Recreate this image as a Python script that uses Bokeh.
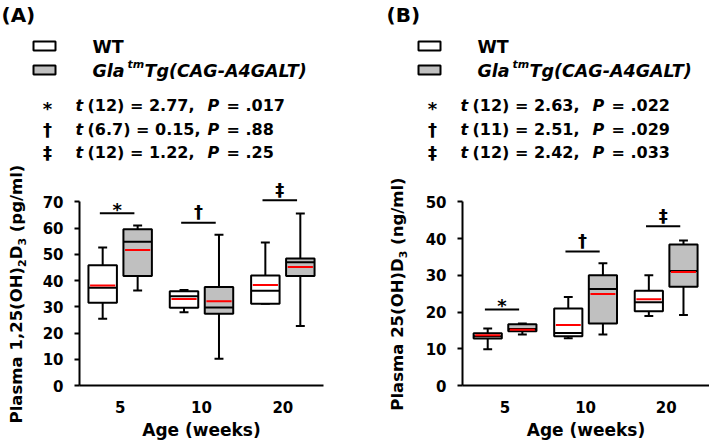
import numpy as np
from bokeh.plotting import figure
from bokeh.models import Range1d, FixedTicker, Label, Div
from bokeh.layouts import column, row
from bokeh.embed import file_html
from bokeh.resources import INLINE
from bokeh.core.properties import value

# ---------------- data ----------------
ages = ["5", "10", "20"]
x_title = "Age (weeks)"
legend_wt = "WT"
legend_tg = ["Gla", "tm", "Tg(CAG-A4GALT)"]
sig_symbols = ["*", "\u2020", "\u2021"]

# Panel A: plasma 1,25(OH)2D3 (pg/ml)
a_title = "(A)"
a_ylabel = ["Plasma 1,25(OH)", "2", "D", "3", " (pg/ml)"]
a_yticks = [0, 10, 20, 30, 40, 50, 60, 70]
a_wt_low = [25.5, 27.9, 31.2]
a_wt_q1 = [31.6, 29.6, 31.2]
a_wt_med = [37.3, 34.0, 36.1]
a_wt_q3 = [45.9, 35.9, 41.9]
a_wt_high = [52.6, 36.4, 54.5]
a_wt_mean = [38.1, 33.0, 38.3]
a_tg_low = [36.2, 10.2, 22.7]
a_tg_q1 = [41.8, 27.4, 41.8]
a_tg_med = [54.8, 29.7, 47.0]
a_tg_q3 = [59.6, 37.6, 48.4]
a_tg_high = [61.0, 57.5, 65.6]
a_tg_mean = [51.7, 32.1, 45.2]
a_sig_y = [65.7, 62.1, 70.6]
a_df = ["12", "6.7", "12"]
a_t = ["2.77", "0.15", "1.22"]
a_p = [".017", ".88", ".25"]

# Panel B: plasma 25(OH)D3 (ng/ml)
b_title = "(B)"
b_ylabel = ["Plasma 25(OH)D", "3", "", "", " (ng/ml)"]
b_yticks = [0, 10, 20, 30, 40, 50]
b_wt_low = [9.9, 12.9, 18.9]
b_wt_q1 = [12.8, 13.4, 20.2]
b_wt_med = [13.4, 14.3, 22.7]
b_wt_q3 = [14.2, 21.0, 25.8]
b_wt_high = [15.5, 24.1, 30.0]
b_wt_mean = [13.7, 16.5, 23.5]
b_tg_low = [13.9, 13.9, 19.2]
b_tg_q1 = [14.8, 16.9, 26.9]
b_tg_med = [15.4, 26.3, 31.2]
b_tg_q3 = [16.7, 30.0, 38.4]
b_tg_high = [16.9, 33.3, 39.5]
b_tg_mean = [15.2, 24.9, 30.9]
b_sig_y = [20.7, 36.5, 43.4]
b_df = ["12", "11", "12"]
b_t = ["2.63", "2.51", "2.42"]
b_p = [".022", ".029", ".033"]

# ---------------- style ----------------
FONT_NAME = "DejaVu Sans"
FONT = value(FONT_NAME)
GRAY = "#c0c0c0"
RED = "#ff0000"
TOTAL_W, TOTAL_H = 709, 442
HDR_H = 164
PLOT_H = TOTAL_H - HDR_H
BORDER_TOP = 8
BORDER_BOTTOM = 55
FRAME_H = PLOT_H - BORDER_TOP - BORDER_BOTTOM
PX_SPAN = 185.3          # pixels between 0 and the top tick
sym_lift = {"*": 4, "\u2020": 11, "\u2021": 11}   # px above the bar (symbol centre)


def make_panel(width, left, right, xr, yticks, wt, tg, sig_y):
    ppu = PX_SPAN / yticks[-1]
    p = figure(width=width, height=PLOT_H, x_range=Range1d(*xr),
               y_range=Range1d(0, FRAME_H / ppu),
               toolbar_location=None, output_backend="svg",
               min_border_left=left, min_border_right=right,
               min_border_top=BORDER_TOP, min_border_bottom=BORDER_BOTTOM,
               outline_line_color=None)
    p.xgrid.visible = False
    p.ygrid.visible = False
    x = np.arange(1, len(ages) + 1)
    off, bw, cw = 0.215, 0.35, 0.11
    for vals, dx, fill in [(wt, -off, "white"), (tg, off, GRAY)]:
        low, q1, med, q3, high, mean = [np.array(v) for v in vals]
        xc = x + dx
        p.segment(xc, q3, xc, high, line_color="black", line_width=2)
        p.segment(xc, q1, xc, low, line_color="black", line_width=2)
        p.segment(xc - cw / 2, high, xc + cw / 2, high, line_color="black", line_width=2)
        p.segment(xc - cw / 2, low, xc + cw / 2, low, line_color="black", line_width=2)
        p.quad(left=xc - bw / 2, right=xc + bw / 2, bottom=q1, top=q3,
               fill_color=fill, line_color="black", line_width=2)
        p.segment(xc - bw / 2, med, xc + bw / 2, med, line_color="black", line_width=2)
        p.segment(xc - bw / 2 + 0.02, mean, xc + bw / 2 - 0.02, mean, line_color=RED, line_width=2)
    sy = np.array(sig_y)
    p.segment(x - 0.25, sy, x + 0.175, sy, line_color="black", line_width=2)
    for i, s in enumerate(sig_symbols):
        p.add_layout(Label(x=float(x[i]) - 0.0375, y=sig_y[i] + sym_lift[s] / ppu, text=s,
                           text_align="center", text_baseline="middle",
                           text_font=FONT_NAME, text_font_style="bold",
                           text_font_size="18px", text_color="black"))
    # axes
    xa = p.xaxis[0]
    xa.ticker = FixedTicker(ticks=[int(v) for v in x])
    xa.major_label_overrides = {int(k): a for k, a in zip(x, ages)}
    xa.axis_label = x_title
    xa.minor_tick_line_color = None
    xa.major_tick_out = 0
    xa.major_tick_in = 0
    xa.major_label_standoff = 15
    xa.axis_label_standoff = 4
    ya = p.yaxis[0]
    ya.ticker = FixedTicker(ticks=yticks)
    ya.bounds = (0, yticks[-1])
    ya.minor_tick_line_color = None
    ya.major_tick_out = 5
    ya.major_tick_in = 0
    ya.major_label_standoff = 11
    for ax in (xa, ya):
        ax.axis_line_width = 2
        ax.major_tick_line_width = 2
        ax.axis_line_color = "black"
        ax.major_label_text_font = FONT_NAME
        ax.major_label_text_font_style = "bold"
        ax.major_label_text_font_size = "15px"
        ax.major_label_text_color = "black"
        ax.axis_label_text_font = FONT_NAME
        ax.axis_label_text_font_style = "bold"
        ax.axis_label_text_color = "black"
    xa.axis_label_text_font_size = "17px"
    xa.major_tick_line_color = None
    ya.major_tick_line_color = "black"
    return p


def title_strip(width, cx, parts):
    """Vertical y-axis title (with real subscripts), centred on the 0..top-tick span."""
    cy = PLOT_H - BORDER_BOTTOM - PX_SPAN / 2
    sub = '<sub style="font-size:11px;line-height:0;">%s</sub>'
    label = parts[0] + (sub % parts[1] if parts[1] else "") + parts[2] + \
        (sub % parts[3] if parts[3] else "") + parts[4]
    html = (
        '<div style="position:relative;width:%dpx;height:%dpx;overflow:visible;">'
        '<div style="position:absolute;left:%.1fpx;top:%.1fpx;'
        'transform:translate(-50%%,-50%%) rotate(-90deg);white-space:nowrap;'
        "font-family:'DejaVu Sans';font-weight:bold;font-size:16.5px;line-height:1;color:#000;\">"
        '%s</div></div>' % (width, PLOT_H, cx, cy, label)
    )
    return Div(text=html, width=width, height=PLOT_H, margin=0)


tA = title_strip(30, 17, a_ylabel)
pA = make_panel(325, 49, 32, (0.5, 3.5), a_yticks,
                (a_wt_low, a_wt_q1, a_wt_med, a_wt_q3, a_wt_high, a_wt_mean),
                (a_tg_low, a_tg_q1, a_tg_med, a_tg_q3, a_tg_high, a_tg_mean),
                a_sig_y)
tB = title_strip(55, 42.5, b_ylabel)
pB = make_panel(299, 52, 0, (0.472, 3.538), b_yticks,
                (b_wt_low, b_wt_q1, b_wt_med, b_wt_q3, b_wt_high, b_wt_mean),
                (b_tg_low, b_tg_q1, b_tg_med, b_tg_q3, b_tg_high, b_tg_mean),
                b_sig_y)

# ---------------- header (legend + statistics) ----------------
hdr = figure(width=TOTAL_W, height=HDR_H, x_range=Range1d(0, TOTAL_W), y_range=Range1d(HDR_H, 0),
             toolbar_location=None, output_backend="svg", min_border=0,
             x_axis_location=None, y_axis_location=None, outline_line_color=None)
hdr.xgrid.visible = False
hdr.ygrid.visible = False


def txt(x, y, s, size, style="bold", align="left"):
    hdr.text(x=[x], y=[y], text=[s], text_font=FONT, text_font_style=style,
             text_font_size=size, text_align=align, text_baseline="middle",
             text_color="black")


def header(ox, title, dfs, ts, ps):
    txt(ox + 1, 14, title, "20px")
    hdr.quad(left=[ox + 33], right=[ox + 55], top=[41], bottom=[50],
             fill_color="white", line_color="black", line_width=2)
    hdr.quad(left=[ox + 33], right=[ox + 55], top=[65], bottom=[74],
             fill_color=GRAY, line_color="black", line_width=2)
    txt(ox + 92, 46, legend_wt, "17.5px")
    txt(ox + 92, 70, legend_tg[0], "17.5px", "bold italic")
    txt(ox + 127, 64, legend_tg[1], "11px", "bold italic")
    txt(ox + 144, 70, legend_tg[2], "17.5px", "bold italic")
    ys = [105, 129, 152]
    for i in range(3):
        txt(ox + 47, ys[i] + (3 if sig_symbols[i] == "*" else 0), sig_symbols[i], "18px", "bold", "center")
        txt(ox + 75, ys[i], "t", "16px", "bold italic")
        txt(ox + 87, ys[i], "(%s) = %s," % (dfs[i], ts[i]), "16px")
        txt(ox + 207, ys[i], "P", "16px", "bold italic")
        txt(ox + 226, ys[i], "= %s" % ps[i], "16px")


header(0, a_title, a_df, a_t, a_p)
header(385, b_title, b_df, b_t, b_p)

layout = column(hdr, row(tA, pA, tB, pB))
open("out.html", "w").write(file_html(layout, INLINE))
